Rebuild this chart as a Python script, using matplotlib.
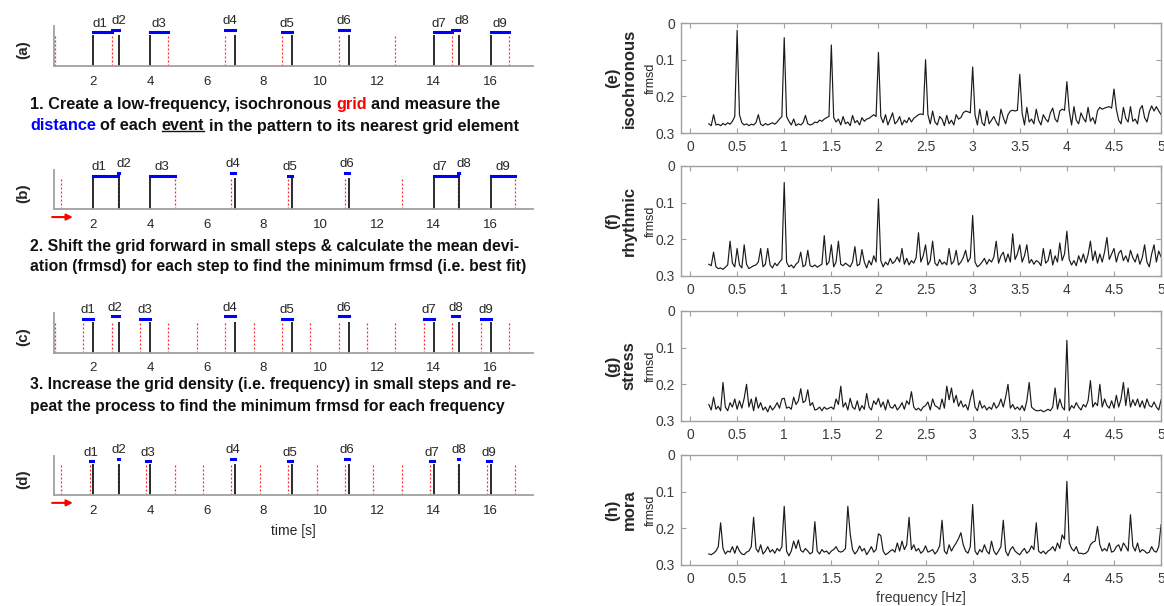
import numpy as np
import matplotlib.pyplot as plt
from matplotlib.lines import Line2D

plt.rcParams['font.family'] = ['Liberation Sans', 'DejaVu Sans']

# event onsets of the example pattern (s)
event_times = [2, 2.9, 4, 7, 9, 11, 14, 14.9, 16]
event_names = ['d1', 'd2', 'd3', 'd4', 'd5', 'd6', 'd7', 'd8', 'd9']

# grid elements for each step
grid_a = [0.65, 2.65, 4.65, 6.65, 8.65, 10.65, 12.65, 14.65, 16.65]
grid_b = [0.87, 2.87, 4.87, 6.87, 8.87, 10.87, 12.87, 14.87, 16.87]
grid_c = [0.65, 1.65, 2.65, 3.65, 4.65, 5.65, 6.65, 7.65, 8.65, 9.65,
          10.65, 11.65, 12.65, 13.65, 14.65, 15.65, 16.65]
grid_d = [0.87, 1.87, 2.87, 3.87, 4.87, 5.87, 6.87, 7.87, 8.87, 9.87,
          10.87, 11.87, 12.87, 13.87, 14.87, 15.87, 16.87]
time_ticks = [2, 4, 6, 8, 10, 12, 14, 16]

# frmsd spectra, in thousandths, sampled from 0.2 to 5 Hz
frmsd_isochronous = [
    275, 280, 250, 278, 276, 280, 274, 278, 272, 276, 268, 255,
    20,
    250, 272, 278, 275, 280, 276, 278, 272, 250, 276, 280, 274, 278, 275, 272, 276, 270, 262, 255,
    40,
    255, 268, 278, 262, 280, 275, 278, 272, 252, 275, 278, 276, 270, 272, 265, 268, 262, 258, 255,
    60,
    258, 270, 262, 278, 255, 275, 270, 280, 252, 272, 266, 278, 258, 268, 262, 260, 255, 250, 255,
    80,
    255, 272, 250, 278, 262, 245, 275, 268, 255, 278, 265, 272, 258, 270, 260, 255, 250, 248, 250,
    100,
    250, 275, 240, 270, 278, 255, 262, 280, 252, 275, 265, 278, 250, 262, 258, 245, 240, 242, 245,
    120,
    250, 278, 235, 272, 280, 240, 275, 265, 255, 270, 280, 235, 258, 275, 250, 240, 238, 240, 238,
    140,
    245, 278, 230, 270, 262, 275, 235, 265, 278, 250, 262, 270, 245, 232, 262, 270, 240, 235, 238,
    160,
    240, 278, 228, 265, 275, 245, 260, 270, 230, 268, 258, 275, 240, 230, 235, 232, 230, 228, 232,
    180,
    235, 265, 275, 230, 260, 270, 228, 268, 262, 275, 235, 225, 258, 270, 242, 226, 240, 228, 240, 250,
]
frmsd_rhythmic = [
    268, 272, 235, 275, 280, 278, 282, 276, 270, 205, 265, 275, 225, 270, 278, 215, 268, 280, 276, 272,
    270, 262, 225, 275, 268, 225, 270, 278, 265, 272, 262, 255, 45, 262, 275, 270, 278, 268, 262, 235,
    275, 270, 230, 272, 275, 270, 276, 272, 268, 190, 270, 262, 215, 275, 262, 205, 268, 272, 265, 270,
    275, 262, 220, 272, 268, 228, 262, 278, 258, 270, 245, 262, 90, 258, 275, 262, 270, 252, 266, 260,
    248, 262, 225, 268, 252, 270, 258, 265, 250, 182, 262, 245, 215, 270, 258, 205, 265, 272, 255, 268,
    262, 270, 225, 268, 260, 230, 270, 262, 250, 230, 262, 250, 135, 262, 275, 270, 262, 252, 268, 255,
    262, 248, 205, 265, 245, 235, 262, 240, 262, 185, 255, 240, 215, 262, 245, 215, 265, 255, 268, 258,
    262, 272, 225, 265, 258, 228, 270, 245, 262, 210, 258, 240, 178, 255, 270, 258, 272, 245, 262, 240,
    265, 242, 205, 258, 232, 265, 240, 262, 235, 195, 255, 240, 225, 262, 238, 230, 258, 245, 262, 230,
    250, 262, 240, 268, 250, 215, 262, 275, 240, 215, 262, 232, 248,
]
frmsd_stress = [
    255, 270, 235, 268, 260, 272, 195, 262, 272, 250, 262, 240, 268, 245, 265, 238, 200, 262, 240, 272,
    235, 265, 250, 270, 262, 275, 258, 270, 262, 250, 265, 240, 238, 265, 262, 268, 235, 255, 245, 212,
    250, 245, 215, 258, 250, 270, 268, 262, 272, 262, 268, 265, 262, 268, 240, 255, 205, 262, 250, 270,
    238, 262, 268, 245, 272, 258, 268, 225, 262, 270, 245, 255, 238, 262, 248, 270, 242, 262, 265, 255,
    270, 262, 250, 268, 245, 255, 220, 262, 270, 265, 272, 262, 258, 248, 270, 240, 258, 262, 268, 240,
    265, 205, 242, 210, 250, 230, 260, 245, 262, 255, 270, 240, 215, 262, 272, 245, 265, 258, 270, 262,
    268, 250, 265, 258, 240, 262, 235, 200, 265, 255, 268, 262, 270, 258, 272, 245, 195, 262, 268, 272,
    272, 270, 275, 272, 268, 272, 262, 210, 268, 240, 262, 270, 80, 272, 258, 265, 250, 262, 270, 255,
    262, 245, 190, 262, 250, 258, 200, 262, 240, 258, 265, 245, 265, 230, 262, 240, 195, 258, 210, 262,
    242, 258, 240, 262, 245, 265, 240, 258, 262, 248, 262, 270, 242,
]
frmsd_mora = [
    270, 272, 268, 262, 250, 185, 255, 270, 262, 265, 250, 268, 248, 262, 270, 272, 265, 262, 250, 170,
    255, 265, 245, 270, 262, 250, 265, 258, 268, 255, 262, 250, 140, 262, 275, 262, 235, 255, 232, 260,
    265, 255, 262, 270, 265, 182, 262, 270, 258, 265, 262, 270, 262, 258, 250, 262, 265, 262, 255, 140,
    215, 258, 270, 262, 248, 262, 255, 272, 262, 250, 265, 258, 215, 220, 262, 272, 268, 262, 258, 265,
    240, 262, 235, 258, 245, 170, 258, 245, 262, 255, 268, 262, 248, 265, 262, 258, 270, 262, 248, 178,
    262, 270, 245, 262, 250, 240, 228, 212, 245, 262, 268, 250, 135, 262, 272, 258, 265, 245, 262, 270,
    235, 262, 272, 262, 250, 178, 262, 275, 258, 250, 262, 268, 272, 262, 255, 268, 262, 248, 258, 185,
    262, 268, 262, 270, 262, 258, 250, 262, 240, 255, 218, 230, 72, 240, 255, 262, 250, 268, 268, 270,
    268, 262, 245, 238, 235, 195, 245, 262, 255, 262, 240, 265, 262, 250, 245, 262, 240, 250, 262, 163,
    248, 262, 240, 265, 258, 262, 268, 265, 250, 262, 265, 250, 190,
]
series_tags = ['(e)\nisochronous', '(f)\nrhythmic', '(g)\nstress', '(h)\nmora']
freq_ticks = [0, 0.5, 1, 1.5, 2, 2.5, 3, 3.5, 4, 4.5, 5]
freq_tick_labels = ['0', '0.5', '1', '1.5', '2', '2.5', '3', '3.5', '4', '4.5', '5']
frmsd_ticks = [0, 0.1, 0.2, 0.3]
frmsd_tick_labels = ['0', '0.1', '0.2', '0.3']

for s in (frmsd_isochronous, frmsd_rhythmic, frmsd_stress, frmsd_mora):
    assert len(s) == 193, len(s)

TEXT = '#262626'
AXIS_GRAY = '#a0a0a0'

fig = plt.figure(figsize=(11.64, 6.06), dpi=100)

# ---------------- left: grid fitting illustration ----------------
left_bottoms = [0.8914, 0.6548, 0.418, 0.1832]
grids = [grid_a, grid_b, grid_c, grid_d]
tags = ['(a)', '(b)', '(c)', '(d)']
shifted = [False, True, False, True]
bar_levels = [0.85, 0.92]
# keep neighbouring labels (d1/d2, d7/d8) apart on the coarse grids
label_nudge = [{0: -0.1, 1: 0.13, 6: -0.13, 7: 0.22},
               {0: -0.22, 1: 0.2, 6: -0.22, 7: 0.17},
               {}, {}]

for bottom, grid, tag, arrow, nudge in zip(left_bottoms, grids, tags, shifted, label_nudge):
    ax = fig.add_axes([0.046, bottom, 0.412, 0.065])
    ax.set_xlim(0.6, 17.5)
    ax.set_ylim(0, 1)
    ax.vlines(grid, 0, 0.78, colors='#ff3030', linestyles=(0, (1.6, 1.6)), lw=0.9)
    ax.vlines(event_times, 0, 0.78, colors='#1a1a1a', lw=1.3)
    g = np.array(grid)
    for k, (t, name) in enumerate(zip(event_times, event_names)):
        nearest = g[np.argmin(np.abs(g - t))]
        lo, hi = min(t, nearest), max(t, nearest)
        lvl = bar_levels[k % 2]
        ax.plot([lo, hi], [lvl, lvl], color='#0000ff', lw=2.2, solid_capstyle='projecting')
        ax.text((lo + hi) / 2 + nudge.get(k, 0), lvl + 0.07, name, ha='center', va='bottom',
                fontsize=9.5, color=TEXT)
    for side in ('top', 'right'):
        ax.spines[side].set_visible(False)
    for side in ('left', 'bottom'):
        ax.spines[side].set_color(AXIS_GRAY)
        ax.spines[side].set_linewidth(1.3)
    ax.set_yticks([])
    ax.set_xticks(time_ticks)
    ax.tick_params(axis='x', length=0, pad=7, labelsize=9.5, labelcolor=TEXT)
    ax.text(-0.064, 0.4, tag, transform=ax.transAxes, rotation=90, ha='center',
            va='center', fontsize=11, fontweight='bold', color=TEXT)
    if arrow:
        ax.annotate('', xy=(1.28, -0.2), xytext=(0.55, -0.2), xycoords='data',
                    annotation_clip=False,
                    arrowprops=dict(arrowstyle='-|>', color='red', lw=1.5,
                                    mutation_scale=9, shrinkA=0, shrinkB=0))
    if tag == '(d)':
        ax.set_xlabel('time [s]', fontsize=10, color=TEXT, labelpad=5)

# ---------------- step descriptions ----------------
tax = fig.add_axes([0, 0, 1, 1])
tax.axis('off')
tax.set_xlim(0, 1)
tax.set_ylim(0, 1)

underlined = []


def rich_line(x, y_px, parts, size):
    prev = None
    space_pt = 0.278 * size
    for txt, color, under in parts:
        kw = dict(fontsize=size, fontweight='bold', color=color, va='center', ha='left')
        if prev is None:
            t = tax.text(x, 1 - y_px / 606, txt, **kw)
        else:
            t = tax.annotate(txt, xy=(1, 0.5), xycoords=prev, xytext=(space_pt, 0),
                             textcoords='offset points', **kw)
        if under:
            underlined.append(t)
        prev = t


K = '#111111'
rich_line(0.0258, 105, [('1. Create a low-frequency, isochronous', K, False),
                        ('grid', '#ff0000', False), ('and measure the', K, False)], 11.7)
rich_line(0.0258, 126, [('distance', '#0000ff', False), ('of each', K, False),
                        ('event', K, True),
                        ('in the pattern to its nearest grid element', K, False)], 11.7)
rich_line(0.0258, 246, [('2. Shift the grid forward in small steps & calculate the mean devi-', K, False)], 11.3)
rich_line(0.0258, 266, [('ation (frmsd) for each step to find the minimum frmsd (i.e. best fit)', K, False)], 11.3)
rich_line(0.0258, 385, [('3. Increase the grid density (i.e. frequency) in small steps and re-', K, False)], 11.3)
rich_line(0.0258, 406, [('peat the process to find the minimum frmsd for each frequency', K, False)], 11.3)

# ---------------- right: frmsd spectra ----------------
right_bottoms = [0.7805, 0.5446, 0.3053, 0.0677]
series = [frmsd_isochronous, frmsd_rhythmic, frmsd_stress, frmsd_mora]

for i, (bottom, vals, tag) in enumerate(zip(right_bottoms, series, series_tags)):
    ax = fig.add_axes([0.5847, bottom, 0.4128, 0.1815])
    freq = np.linspace(0.2, 5.0, len(vals))
    ax.plot(freq, np.array(vals) / 1000, color='#1a1a1a', lw=0.85)
    ax.set_xlim(-0.1, 5.0)
    ax.set_ylim(0.3, 0)
    ax.set_xticks(freq_ticks)
    ax.set_xticklabels(freq_tick_labels)
    ax.set_yticks(frmsd_ticks)
    ax.set_yticklabels(frmsd_tick_labels)
    for sp in ax.spines.values():
        sp.set_color(AXIS_GRAY)
        sp.set_linewidth(1.0)
    ax.tick_params(direction='in', length=3.5, width=0.8, color=AXIS_GRAY,
                   top=True, right=True, labelsize=10, labelcolor='#3a3a3a')
    ax.tick_params(axis='x', pad=5)
    ax.tick_params(axis='y', pad=4)
    ax.set_ylabel('frmsd', fontsize=9, color=TEXT)
    ax.yaxis.set_label_coords(-0.05, 0.5)
    fig.text(0.5335, bottom + 0.1815 / 2, tag, rotation=90, ha='center', va='center',
             multialignment='center', fontsize=12, fontweight='bold', color=TEXT,
             linespacing=1.1)
    if i == 3:
        ax.set_xlabel('frequency [Hz]', fontsize=10, color='#3a3a3a', labelpad=4)

# underline under the emphasised word
fig.canvas.draw()
for t in underlined:
    bb = t.get_window_extent().transformed(fig.transFigure.inverted())
    yline = bb.y0 + 3.0 / 606
    fig.add_artist(Line2D([bb.x0, bb.x1], [yline, yline], color=K, lw=1.0,
                          transform=fig.transFigure))

fig.savefig('out.png', dpi=100)
